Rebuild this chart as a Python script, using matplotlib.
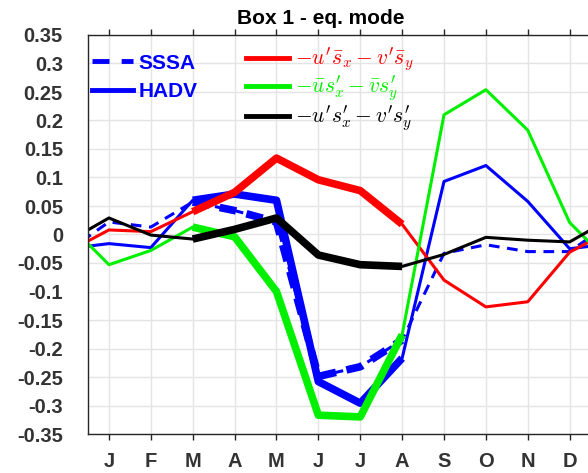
import numpy as np
import matplotlib
matplotlib.use('Agg')
import matplotlib.pyplot as plt

# Monthly values, Jan..Dec
months = ['J', 'F', 'M', 'A', 'M', 'J', 'J', 'A', 'S', 'O', 'N', 'D']
sssa = [0.022, 0.013, 0.057, 0.042, 0.022, -0.249, -0.232, -0.185, -0.033, -0.018, -0.030, -0.030]
hadv = [-0.016, -0.023, 0.060, 0.071, 0.060, -0.258, -0.296, -0.217, 0.093, 0.121, 0.058, -0.025]
mean_grad = [0.008, 0.005, 0.040, 0.074, 0.134, 0.096, 0.077, 0.018, -0.080, -0.127, -0.118, -0.031]
mean_flow = [-0.053, -0.028, 0.013, -0.004, -0.100, -0.317, -0.320, -0.176, 0.210, 0.254, 0.183, 0.021]
nonlin = [0.029, -0.001, -0.008, 0.009, 0.029, -0.036, -0.053, -0.056, -0.035, -0.005, -0.010, -0.013]

yticks = [0.35, 0.3, 0.25, 0.2, 0.15, 0.1, 0.05, 0, -0.05, -0.1, -0.15, -0.2, -0.25, -0.3, -0.35]
ylabels = ['0.35', '0.3', '0.25', '0.2', '0.15', '0.1', '0.05', '0',
           '-0.05', '-0.1', '-0.15', '-0.2', '-0.25', '-0.3', '-0.35']

plt.rcParams['font.family'] = ['Liberation Sans', 'DejaVu Sans']
plt.rcParams['mathtext.fontset'] = 'cm'


def wrap(vals):
    # repeat Dec before Jan and Jan after Dec so the curve runs off both edges
    x = np.arange(0, 14)
    y = np.array([vals[-1]] + list(vals) + [vals[0]])
    return x, y


fig = plt.figure(figsize=(5.88, 4.73), dpi=100)
ax = fig.add_axes([88 / 588, 39 / 473, 502.6 / 588, 399 / 473])

series = [
    (sssa, 'b', '--'),
    (hadv, 'b', '-'),
    (mean_grad, 'r', '-'),
    (mean_flow, '#00f000', '-'),
    (nonlin, 'k', '-'),
]
for vals, col, ls in series:
    x, y = wrap(vals)
    l1, = ax.plot(x, y, color=col, lw=2.2, ls=ls, solid_capstyle='butt')
    # Mar..Aug highlighted with a thicker line
    l2, = ax.plot(x[3:9], y[3:9], color=col, lw=5.5, ls=ls, solid_capstyle='butt')
    if ls == '--':
        l1.set_dashes((3.5, 2.5))
        l2.set_dashes((2.2, 1.4))

ax.set_xlim(0.5, 12.5)
ax.set_ylim(-0.35, 0.35)
ax.set_xticks(range(1, 13))
ax.set_xticklabels(months)
ax.set_yticks(yticks)
ax.set_yticklabels(ylabels)
ax.grid(True, color='#e4e4e4', lw=1)
ax.set_axisbelow(True)
for s in ax.spines.values():
    s.set_color('#262626')
    s.set_linewidth(1)
ax.tick_params(axis='x', which='both', direction='out', length=4, width=1,
               color='#262626', top=True, labelsize=14.5, labelcolor='#333333', pad=9)
ax.tick_params(axis='y', length=0, labelsize=14.5, labelcolor='#333333', pad=18)
for lab in ax.get_xticklabels() + ax.get_yticklabels():
    lab.set_fontweight('bold')

fig.text(321 / 588, 1 - 18 / 473, 'Box 1 - eq. mode', ha='center', va='center',
         fontsize=15, fontweight='bold')

# legend for the two blue curves
h1, = ax.plot([], [], color='b', lw=3.5, ls='--', dashes=(3.5, 2.5))
h2, = ax.plot([], [], color='b', lw=3.5)
leg1 = ax.legend([h1, h2], ['SSSA', 'HADV'], loc='upper left',
                 bbox_to_anchor=(-0.022, 0.99), frameon=False, handlelength=2.0,
                 handletextpad=0.25, labelspacing=0.45, borderaxespad=0.3,
                 prop={'weight': 'bold', 'size': 15}, labelcolor='b')
ax.add_artist(leg1)

# legend for the three advection terms
h3, = ax.plot([], [], color='r', lw=3.5)
h4, = ax.plot([], [], color='#00f000', lw=3.5)
h5, = ax.plot([], [], color='k', lw=3.5)
labels = [r"$-u^{\prime}\bar{s}_x-v^{\prime}\bar{s}_y$",
          r"$-\bar{u}s^{\prime}_{x}-\bar{v}s^{\prime}_{y}$",
          r"$-u^{\prime}s^{\prime}_{x}-v^{\prime}s^{\prime}_{y}$"]
leg2 = ax.legend([h3, h4, h5], labels, loc='upper left',
                 bbox_to_anchor=(0.285, 1.01), frameon=False, handlelength=2.0,
                 handletextpad=0.25, labelspacing=0.0, borderaxespad=0.3,
                 fontsize=15.5, labelcolor='linecolor')

fig.savefig('out.png', dpi=100)
